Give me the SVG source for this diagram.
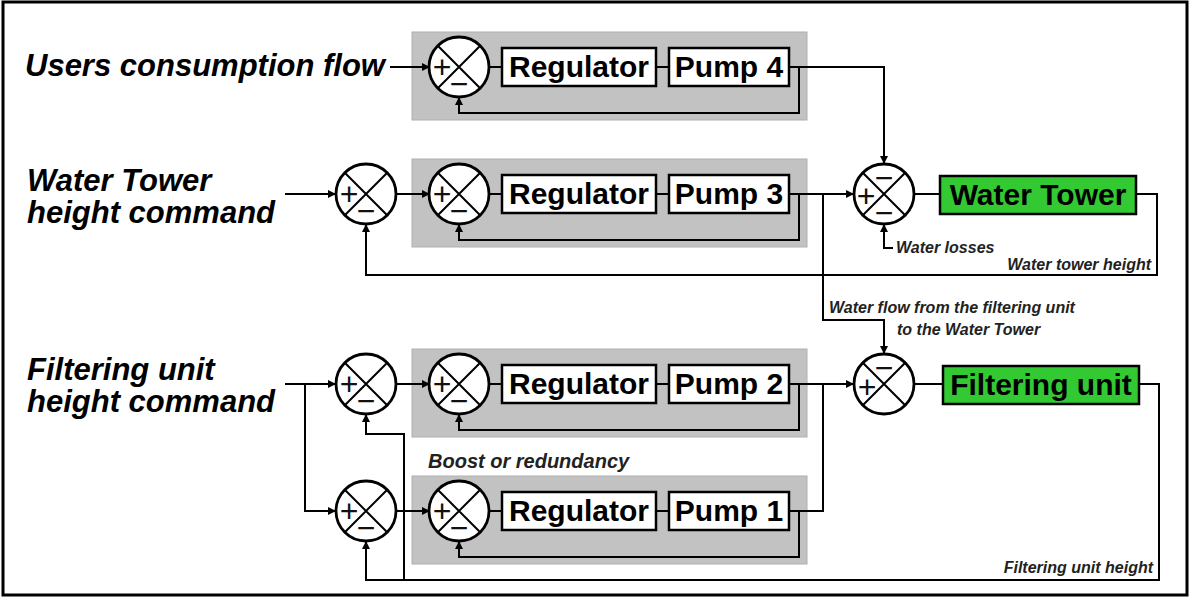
<svg xmlns="http://www.w3.org/2000/svg" width="1191" height="598" viewBox="0 0 1191 598">
<style>
.frame{fill:#fff;stroke:#000;stroke-width:3}
.panel{fill:#c2c2c2;stroke:#b0b0b0;stroke-width:1}
.box{fill:#fff;stroke:#000;stroke-width:2.5}
.gbox{fill:#33c933;stroke:#000;stroke-width:2.5}
.sum circle{fill:#fff;stroke:#000;stroke-width:2.8}
.sum path{fill:none;stroke:#000;stroke-width:2}
.pm{font-family:"Liberation Sans",Arial,sans-serif;font-size:32px;text-anchor:middle;fill:#111}
.bt{font-family:"Liberation Sans",Arial,sans-serif;font-weight:bold;font-size:30px;text-anchor:middle;fill:#000}
.big{font-family:"Liberation Sans",Arial,sans-serif;font-weight:bold;font-style:italic;font-size:31px;fill:#000}
.sm{font-family:"Liberation Sans",Arial,sans-serif;font-weight:bold;font-style:italic;font-size:16px;fill:#222}
.con path{fill:none;stroke:#000;stroke-width:2}
.con .a{marker-end:url(#arr)}
</style>
<defs>
<marker id="arr" viewBox="0 0 10 10" refX="10" refY="5" markerWidth="9" markerHeight="8" markerUnits="userSpaceOnUse" orient="auto">
<path d="M0,0 L10,5 L0,10 z" fill="#000"/>
</marker>
</defs>
<rect class="frame" x="3" y="2" width="1184" height="593"/>

<g id="panels">
<rect id="panel4" class="panel" x="412" y="32" width="395" height="88"/>
<rect id="panel3" class="panel" x="412" y="159" width="395" height="88"/>
<rect id="panel2" class="panel" x="412" y="349" width="395" height="88"/>
<rect id="panel1" class="panel" x="412" y="476" width="395" height="88"/>
</g>

<g id="labels">
<text class="big" x="25" y="76">Users consumption flow</text>
<text class="big" x="27" y="191">Water Tower</text>
<text class="big" x="27" y="223">height command</text>
<text class="big" x="27" y="380">Filtering unit</text>
<text class="big" x="27" y="412">height command</text>
<text class="sm" x="896" y="253">Water losses</text>
<text class="sm" x="1151" y="270" text-anchor="end">Water tower height</text>
<text class="sm" x="829" y="313">Water flow from the filtering unit</text>
<text class="sm" x="897" y="335">to the Water Tower</text>
<text class="sm" x="1153" y="573" text-anchor="end">Filtering unit height</text>
<text class="sm" x="428" y="468" style="font-size:20px">Boost or redundancy</text>
</g>

<g id="connectors" class="con">
<path class="a" d="M390,67 H430"/>
<path d="M488,67 H502 M656,67 H669"/>
<path class="a" d="M789,67 H884 V164"/>
<path class="a" d="M799,67 V113 H459 V97"/>

<path class="a" d="M285,194 H336"/>
<path class="a" d="M396,194 H430"/>
<path d="M488,194 H502 M656,194 H669"/>
<path class="a" d="M789,194 H854"/>
<path class="a" d="M799,194 V240 H459 V224"/>
<path d="M914,194 H940"/>
<path class="a" d="M1136,194 H1157 V275 H366 V224"/>
<path class="a" d="M893,248 H884 V224"/>
<path class="a" d="M823,194 V320 H884 V354"/>

<path class="a" d="M285,384 H336"/>
<path class="a" d="M305,384 V511 H336"/>
<path class="a" d="M396,384 H430"/>
<path d="M488,384 H502 M656,384 H669"/>
<path class="a" d="M789,384 H854"/>
<path class="a" d="M799,384 V430 H459 V414"/>
<path d="M914,384 H943"/>
<path class="a" d="M1139,384 H1159 V580 H366 V541"/>
<path class="a" d="M404,580 V434 H366 V414"/>

<path class="a" d="M396,511 H430"/>
<path d="M488,511 H502 M656,511 H669"/>
<path d="M789,511 H823 V384"/>
<path class="a" d="M799,511 V557 H459 V541"/>
</g>

<g id="sum4" class="sum"><circle cx="459" cy="67" r="30"/><path d="M437.8,45.8 L480.2,88.2 M480.2,45.8 L437.8,88.2"/><text class="pm" x="442" y="78">+</text><text class="pm" x="459" y="95">−</text></g>
<g id="reg4"><rect class="box" x="502" y="48" width="154" height="38"/><text class="bt" x="579" y="77">Regulator</text></g>
<g id="pump4"><rect class="box" x="669" y="48" width="120" height="38"/><text class="bt" x="729" y="77">Pump 4</text></g>

<g id="sum3o" class="sum"><circle cx="366" cy="194" r="30"/><path d="M344.8,172.8 L387.2,215.2 M387.2,172.8 L344.8,215.2"/><text class="pm" x="349" y="205">+</text><text class="pm" x="366" y="222">−</text></g>
<g id="sum3" class="sum"><circle cx="459" cy="194" r="30"/><path d="M437.8,172.8 L480.2,215.2 M480.2,172.8 L437.8,215.2"/><text class="pm" x="442" y="205">+</text><text class="pm" x="459" y="222">−</text></g>
<g id="reg3"><rect class="box" x="502" y="175" width="154" height="38"/><text class="bt" x="579" y="204">Regulator</text></g>
<g id="pump3"><rect class="box" x="669" y="175" width="120" height="38"/><text class="bt" x="729" y="204">Pump 3</text></g>

<g id="sumWT" class="sum"><circle cx="884" cy="194" r="30"/><path d="M862.8,172.8 L905.2,215.2 M905.2,172.8 L862.8,215.2"/><text class="pm" x="866" y="207">+</text><text class="pm" x="884" y="189">−</text><text class="pm" x="884" y="224">−</text></g>
<g id="waterTower"><rect class="gbox" x="940" y="176" width="196" height="38"/><text class="bt" x="1038" y="205">Water Tower</text></g>

<g id="sum2o" class="sum"><circle cx="366" cy="384" r="30"/><path d="M344.8,362.8 L387.2,405.2 M387.2,362.8 L344.8,405.2"/><text class="pm" x="349" y="395">+</text><text class="pm" x="366" y="412">−</text></g>
<g id="sum2" class="sum"><circle cx="459" cy="384" r="30"/><path d="M437.8,362.8 L480.2,405.2 M480.2,362.8 L437.8,405.2"/><text class="pm" x="442" y="395">+</text><text class="pm" x="459" y="412">−</text></g>
<g id="reg2"><rect class="box" x="502" y="365" width="154" height="38"/><text class="bt" x="579" y="394">Regulator</text></g>
<g id="pump2"><rect class="box" x="669" y="365" width="120" height="38"/><text class="bt" x="729" y="394">Pump 2</text></g>

<g id="sumFU" class="sum"><circle cx="884" cy="384" r="30"/><path d="M862.8,362.8 L905.2,405.2 M905.2,362.8 L862.8,405.2"/><text class="pm" x="867" y="398">+</text><text class="pm" x="884" y="379">−</text></g>
<g id="filteringUnit"><rect class="gbox" x="943" y="366" width="196" height="38"/><text class="bt" x="1041" y="395">Filtering unit</text></g>

<g id="sum1o" class="sum"><circle cx="366" cy="511" r="30"/><path d="M344.8,489.8 L387.2,532.2 M387.2,489.8 L344.8,532.2"/><text class="pm" x="349" y="522">+</text><text class="pm" x="366" y="539">−</text></g>
<g id="sum1" class="sum"><circle cx="459" cy="511" r="30"/><path d="M437.8,489.8 L480.2,532.2 M480.2,489.8 L437.8,532.2"/><text class="pm" x="442" y="522">+</text><text class="pm" x="459" y="539">−</text></g>
<g id="reg1"><rect class="box" x="502" y="492" width="154" height="38"/><text class="bt" x="579" y="521">Regulator</text></g>
<g id="pump1"><rect class="box" x="669" y="492" width="120" height="38"/><text class="bt" x="729" y="521">Pump 1</text></g>
</svg>
